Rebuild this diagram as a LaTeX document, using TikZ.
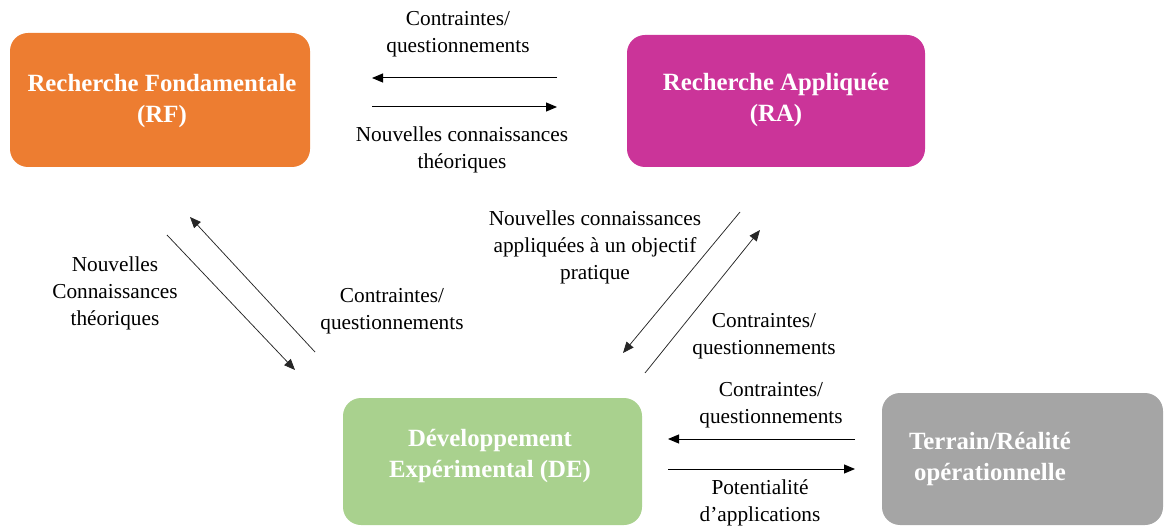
\documentclass[tikz,border=0pt]{standalone}
\usepackage{fontspec}
\setmainfont{Liberation Serif}
\usetikzlibrary{arrows.meta}
\definecolor{rfcol}{HTML}{ED7D31}
\definecolor{racol}{HTML}{CB3499}
\definecolor{decol}{HTML}{A9D18E}
\definecolor{trcol}{HTML}{A5A5A5}
\begin{document}
\begin{tikzpicture}[x=1pt,y=-1pt,
  boxstyle/.style={rounded corners=18pt, inner sep=0pt, text=white, font=\fontsize{24.8}{31}\selectfont\bfseries, align=center},
  lbl/.style={inner sep=0pt, align=center, font=\fontsize{21.3}{27}\selectfont},
  arr/.style={-{Triangle[length=11pt,width=9pt]}, line width=1pt, black},
  darr/.style={-{Triangle[length=11pt,width=9pt]}, line width=0.75pt, black!85}]
\useasboundingbox (0,0) rectangle (1169,526);
% boxes
\path[fill=rfcol, rounded corners=18pt] (10,33) rectangle (310,167);
\path[fill=racol, rounded corners=18pt] (627,35) rectangle (925,167);
\path[fill=decol, rounded corners=18pt] (343,398) rectangle (642,525);
\path[fill=trcol, rounded corners=18pt] (882,393) rectangle (1163,525);
\node[boxstyle] (rf) at (162,101) {Recherche Fondamentale\\(RF)};
\node[boxstyle] (ra) at (776,100) {Recherche Appliquée\\(RA)};
\node[boxstyle] (de) at (490,456) {Développement\\Expérimental (DE)};
\node[boxstyle] (tr) at (990,459) {Terrain/Réalité\\opérationnelle};
% top arrows
\coordinate (t1a) at (557,78); \coordinate (t1b) at (372,78);
\coordinate (t2a) at (372,107); \coordinate (t2b) at (557,107);
\draw[arr] (t1a) -- (t1b);
\draw[arr] (t2a) -- (t2b);
\node[lbl] (l1) at (458,34) {Contraintes/\\questionnements};
\node[lbl] (l2) at (462,150) {Nouvelles connaissances\\théoriques};
% left diagonal
\coordinate (d1a) at (315,352); \coordinate (d1b) at (190,217);
\coordinate (d2a) at (167,235); \coordinate (d2b) at (295,370);
\draw[darr] (d1a) -- (d1b);
\draw[darr] (d2a) -- (d2b);
\node[lbl] (l3) at (115,293) {Nouvelles\\Connaissances\\théoriques};
\node[lbl] (l4) at (392,311) {Contraintes/\\questionnements};
% right diagonal
\coordinate (e1a) at (740,212); \coordinate (e1b) at (623,353);
\coordinate (e2a) at (645,373); \coordinate (e2b) at (760,230);
\draw[darr] (e1a) -- (e1b);
\draw[darr] (e2a) -- (e2b);
\node[lbl] (l5) at (595,247) {Nouvelles connaissances\\appliquées à un objectif\\pratique};
\node[lbl] (l6) at (764,336) {Contraintes/\\questionnements};
% bottom arrows
\coordinate (b1a) at (855,439); \coordinate (b1b) at (668,439);
\coordinate (b2a) at (668,469); \coordinate (b2b) at (855,469);
\draw[arr] (b1a) -- (b1b);
\draw[arr] (b2a) -- (b2b);
\node[lbl] (l7) at (771,405) {Contraintes/\\questionnements};
\node[lbl] (l8) at (760,503) {Potentialité\\d’applications};
\end{tikzpicture}
\end{document}
